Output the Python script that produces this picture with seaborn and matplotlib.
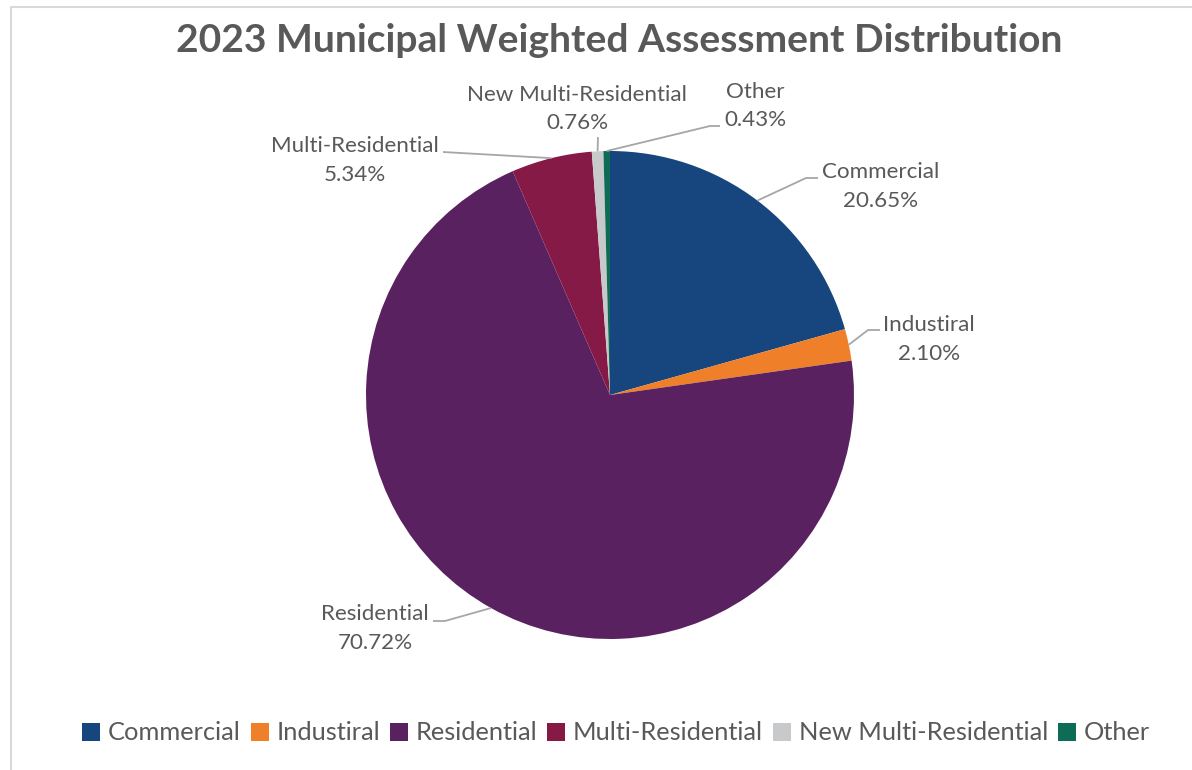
import matplotlib
matplotlib.use("Agg")
import matplotlib.pyplot as plt
from matplotlib.lines import Line2D
import seaborn as sns
import numpy as np

# ---- data ----
title = "2023 Municipal Weighted Assessment Distribution"
categories = ["Commercial", "Industiral", "Residential", "Multi-Residential",
              "New Multi-Residential", "Other"]
shares = [20.65, 2.10, 70.72, 5.34, 0.76, 0.43]
colors_hex = ["#17457D", "#F07F2A", "#5A2160", "#861A47", "#C8C9CA", "#0E6B56"]

# ---- style ----
sns.set_theme(style="white")
plt.rcParams['font.family'] = ['Lato', 'DejaVu Sans']
TXT = "#595959"
LEAD = "#A6A6A6"

W, H = 1192, 770
fig = plt.figure(figsize=(W / 100, H / 100), dpi=100)
ax = fig.add_axes([0, 0, 1, 1])

def Y(y):
    return H - y

CX, CY, R = 610, 395, 244
palette = sns.color_palette(colors_hex)
wedges, _ = ax.pie(shares, colors=palette, startangle=90, counterclock=False,
                   center=(CX, Y(CY)), radius=R,
                   wedgeprops=dict(linewidth=0))
ax.set_xlim(0, W)
ax.set_ylim(0, H)
ax.set_aspect('equal')
ax.axis('off')

renderer = fig.canvas.get_renderer()

def fit(text, target_px, weight='normal'):
    t = fig.text(0, 0, text, fontsize=10, fontweight=weight)
    w = t.get_window_extent(renderer=renderer).width
    t.remove()
    return 10 * target_px / w

# title
tfs = fit(title, 888, 'bold')
ax.text(619, Y(40), title, fontsize=tfs, fontweight='bold', color=TXT,
        ha='center', va='center')

# data labels
lfs = fit("Commercial", 117)
# layout: (text center x, name y, pct y, leader path points after anchor)
layout = {
    0: (881, 172, 201, [(806, 178), (818, 178)]),
    1: (929, 325, 354, [(868, 330), (880, 330)]),
    2: (375, 614, 643, [(445, 621), (433, 621)]),
    3: (355, 146, 175, [(443, 152)]),
    4: (577, 95, 123, [(598, 137)]),
    5: (755, 92, 120, [(710, 126), (720, 126)]),
}
total = sum(shares)
cum = np.cumsum([0] + shares[:-1])
for i, (cat, val) in enumerate(zip(categories, shares)):
    mid = (cum[i] + val / 2) / total * 2 * np.pi
    ax_x = CX + R * np.sin(mid)
    ax_y = CY - R * np.cos(mid)
    tx, y1, y2, pts = layout[i]
    xs = [ax_x] + [p[0] for p in pts]
    ys = [Y(ax_y)] + [Y(p[1]) for p in pts]
    ax.plot(xs, ys, color=LEAD, lw=1.3, solid_capstyle='butt', zorder=1)
    ax.text(tx, Y(y1), cat, fontsize=lfs, color=TXT, ha='center', va='center')
    ax.text(tx, Y(y2), f"{val:.2f}%", fontsize=lfs, color=TXT, ha='center', va='center')

# legend
gfs = fit("Commercial", 133)
leg = ax.legend(wedges, categories, loc='center', ncol=6, frameon=False,
                bbox_to_anchor=(616 / W, Y(733) / H), fontsize=gfs,
                handlelength=0.7, handleheight=0.7, handletextpad=0.3,
                columnspacing=0.4, borderaxespad=0)
for t in leg.get_texts():
    t.set_color(TXT)

# chart border (top and left visible)
fig.add_artist(Line2D([11 / W, 11 / W, 1], [0, Y(7) / H, Y(7) / H],
                      transform=fig.transFigure, color="#D9D9D9", lw=1.5))

fig.savefig("out.png", dpi=100, facecolor='white')
